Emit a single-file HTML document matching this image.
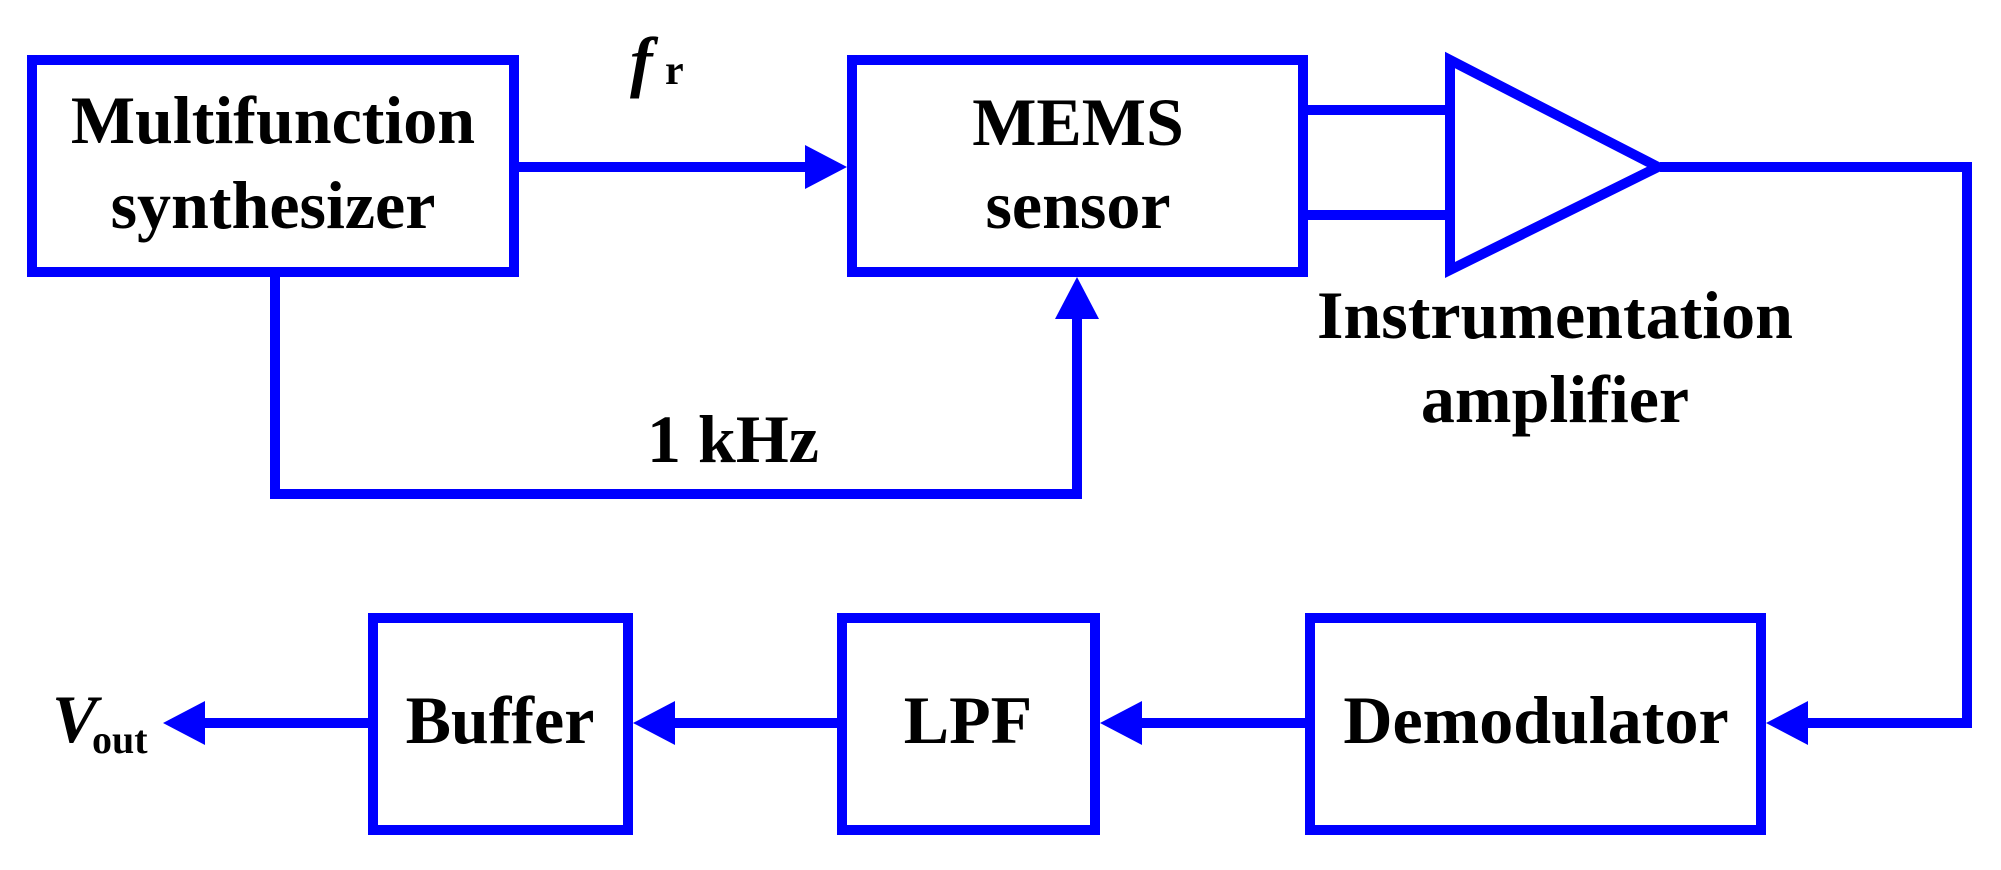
<!DOCTYPE html>
<html><head><meta charset="utf-8"><style>
html,body{margin:0;padding:0;background:#fff;}
svg{display:block;}
text{font-family:"Liberation Serif",serif;font-weight:bold;fill:#000;}
</style></head><body>
<svg width="2001" height="870" viewBox="0 0 2001 870" xmlns="http://www.w3.org/2000/svg">
<g fill="none" stroke="#0000ff" stroke-width="10">
<rect x="32" y="60" width="482" height="212"/>
<rect x="852" y="60" width="451" height="212"/>
<rect x="1310" y="618" width="451" height="212"/>
<rect x="842" y="618" width="253" height="212"/>
<rect x="373" y="618" width="255" height="212"/>
<polygon points="1450,60 1658,167 1450,270" stroke-linejoin="miter"/>
<line x1="519" y1="167" x2="810" y2="167"/>
<polyline points="275,277 275,494 1077,494 1077,315"/>
<line x1="1308" y1="110" x2="1450" y2="110"/>
<line x1="1308" y1="215" x2="1450" y2="215"/>
<polyline points="1660,167 1967,167 1967,723 1805,723"/>
<line x1="1305" y1="723" x2="1140" y2="723"/>
<line x1="837" y1="723" x2="670" y2="723"/>
<line x1="368" y1="723" x2="200" y2="723"/>
</g>
<g fill="#0000ff">
<polygon points="847,167 805,145 805,189"/>
<polygon points="1077,277 1055,319 1099,319"/>
<polygon points="1766,723 1808,701 1808,745"/>
<polygon points="1100,723 1142,701 1142,745"/>
<polygon points="633,723 675,701 675,745"/>
<polygon points="163,723 205,701 205,745"/>
</g>
<g font-size="68" text-anchor="middle">
<text x="273" y="143">Multifunction</text>
<text x="273" y="228">synthesizer</text>
<text x="1078" y="145">MEMS</text>
<text x="1078" y="228">sensor</text>
<text x="733" y="462">1 kHz</text>
<text x="1555" y="338">Instrumentation</text>
<text x="1555" y="422">amplifier</text>
<text x="500" y="743">Buffer</text>
<text x="968" y="743">LPF</text>
<text x="1536" y="743">Demodulator</text>
</g>
<text x="630" y="84" font-size="68" font-style="italic" font-weight="normal">f</text>
<text x="665" y="84" font-size="42" font-weight="bold">r</text>
<text x="52" y="742" font-size="68" font-style="italic">V</text>
<text x="92" y="753" font-size="40">out</text>
</svg>
</body></html>
